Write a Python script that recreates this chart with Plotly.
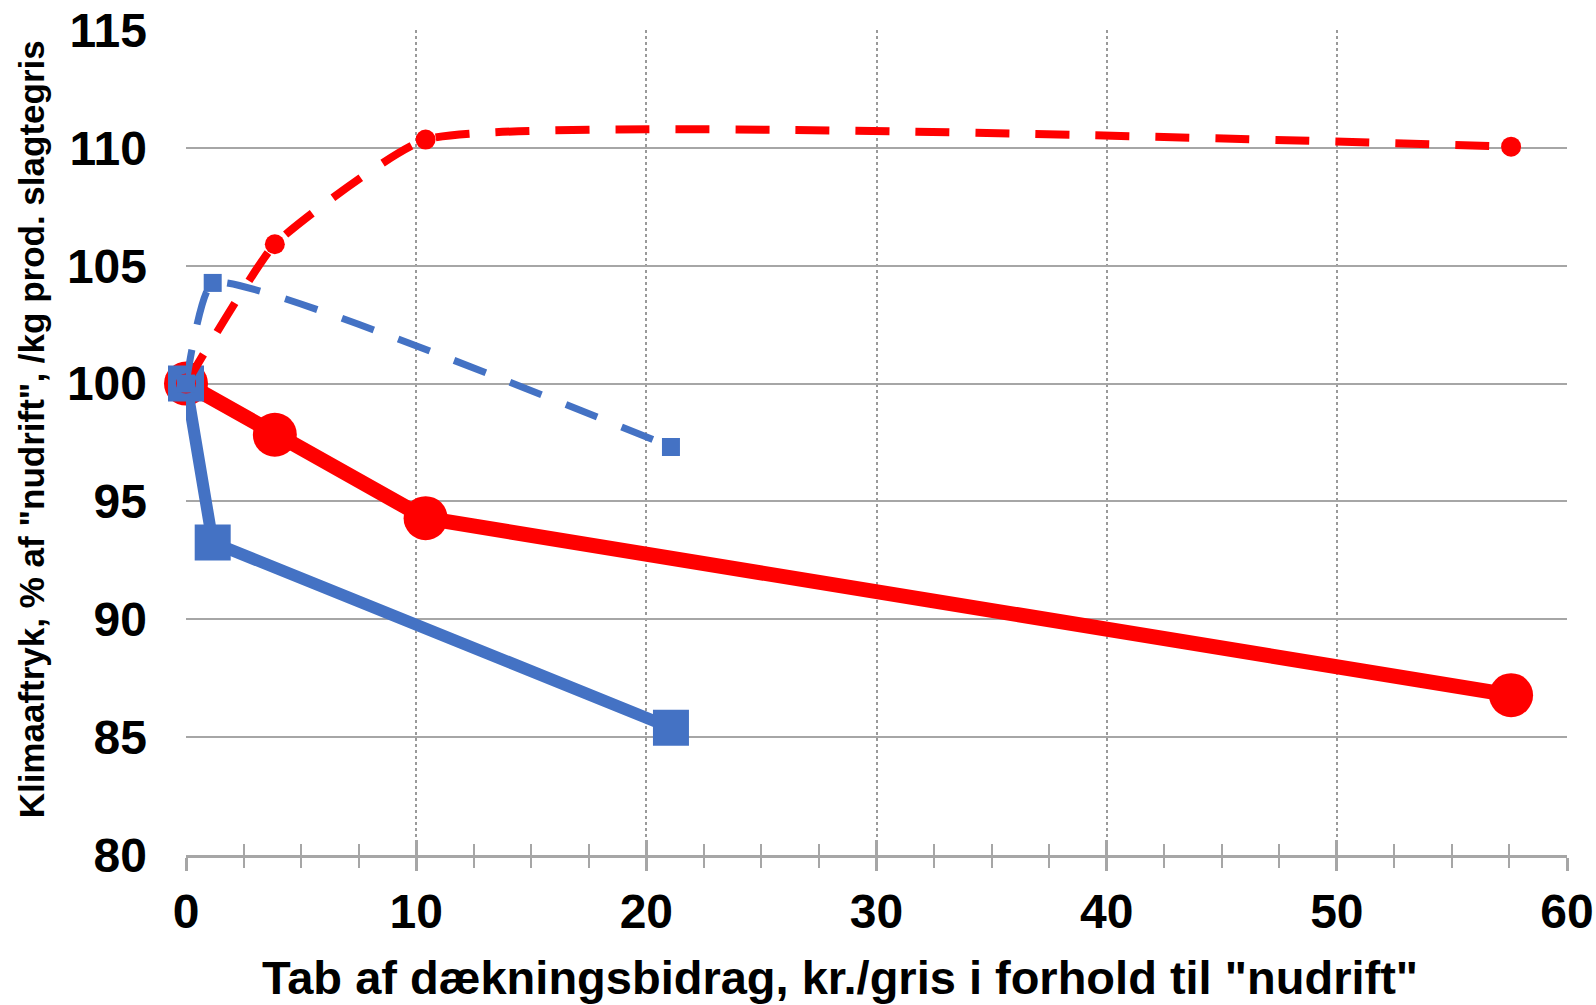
import plotly.graph_objects as go

# Tab af dækningsbidrag (kr./gris) og klimaaftryk (% af "nudrift")
red_solid_x = [0, 3.86, 10.41, 57.57]
red_solid_y = [100, 97.83, 94.29, 86.78]

blue_solid_x = [0, 1.16, 21.07]
blue_solid_y = [100, 93.26, 85.4]

red_dash_x = [0, 3.86, 10.41, 57.57]
red_dash_y = [100, 105.91, 110.35, 110.05]

blue_dash_x = [0, 1.16, 21.07]
blue_dash_y = [100, 104.27, 97.31]

x_ticks = [0, 10, 20, 30, 40, 50, 60]
y_ticks = [80, 85, 90, 95, 100, 105, 110, 115]

RED = "#FF0000"
BLUE = "#4472C4"
GRID = "#a6a6a6"
FONT = "Liberation Sans"

fig = go.Figure()

fig.add_trace(go.Scatter(
    x=red_solid_x, y=red_solid_y, mode="lines+markers",
    line=dict(color=RED, width=15),
    marker=dict(symbol="circle", size=44, color=RED),
    cliponaxis=False, showlegend=False))

fig.add_trace(go.Scatter(
    x=blue_solid_x, y=blue_solid_y, mode="lines+markers",
    line=dict(color=BLUE, width=12),
    marker=dict(symbol="square", size=36, color=BLUE),
    cliponaxis=False, showlegend=False))

fig.add_trace(go.Scatter(
    x=red_dash_x, y=red_dash_y, mode="lines+markers",
    line=dict(color=RED, width=8, dash="34px,26px", shape="spline", smoothing=0.4),
    marker=dict(symbol="circle", size=20, color=RED),
    cliponaxis=False, showlegend=False))

fig.add_trace(go.Scatter(
    x=blue_dash_x, y=blue_dash_y, mode="lines+markers",
    line=dict(color=BLUE, width=7, dash="34px,26px", shape="spline", smoothing=0.4),
    marker=dict(symbol="square", size=18, color=BLUE),
    cliponaxis=False, showlegend=False))

# companion axis that carries the inward half of the crossing tick marks
fig.add_trace(go.Scatter(
    x=red_solid_x, y=red_solid_y, mode="none", xaxis="x2",
    showlegend=False, hoverinfo="skip"))

tick_font = dict(family=FONT, size=48, color="black", weight="bold")

fig.update_layout(
    width=1596, height=1005,
    margin=dict(l=186, r=29, t=30, b=150),
    paper_bgcolor="white", plot_bgcolor="white",
    xaxis=dict(
        range=[0, 60], tickvals=x_ticks, showgrid=True, automargin=False,
        gridcolor="#9a9a9a", griddash="dot", gridwidth=1.5,
        zeroline=False, showline=True, linecolor=GRID, linewidth=2.5,
        ticks="outside", ticklen=13, tickwidth=2.5, tickcolor=GRID,
        minor=dict(dtick=2.5, tick0=0, ticks="outside", ticklen=10,
                   tickwidth=2, tickcolor=GRID, showgrid=False),
        tickfont=tick_font, ticklabelstandoff=0,
    ),
    xaxis2=dict(
        overlaying="x", matches="x", anchor="y", side="bottom",
        range=[0, 60], tickvals=x_ticks, showgrid=False, zeroline=False,
        showline=False, showticklabels=False, automargin=False,
        ticks="inside", ticklen=15, tickwidth=2.5, tickcolor=GRID,
        minor=dict(dtick=2.5, tick0=0, ticks="inside", ticklen=11,
                   tickwidth=2, tickcolor=GRID, showgrid=False),
    ),
    yaxis=dict(
        range=[80, 115], tickvals=y_ticks, showgrid=True, automargin=False,
        gridcolor=GRID, gridwidth=2, zeroline=False, showline=False,
        ticks="", tickfont=tick_font, ticklabelstandoff=38,
    ),
    annotations=[
        dict(text='Tab af dækningsbidrag, kr./gris i forhold til "nudrift"',
             xref="paper", yref="paper", x=0.4736, y=-0.148,
             xanchor="center", yanchor="middle", showarrow=False,
             font=dict(family=FONT, size=47, color="black", weight="bold")),
        dict(text='Klimaaftryk, % af "nudrift", /kg prod. slagtegris',
             xref="paper", yref="paper", x=-0.1122, y=0.516,
             xanchor="center", yanchor="middle", textangle=-90, showarrow=False,
             font=dict(family=FONT, size=35, color="black", weight="bold")),
    ],
)

fig.write_html("out.html")
